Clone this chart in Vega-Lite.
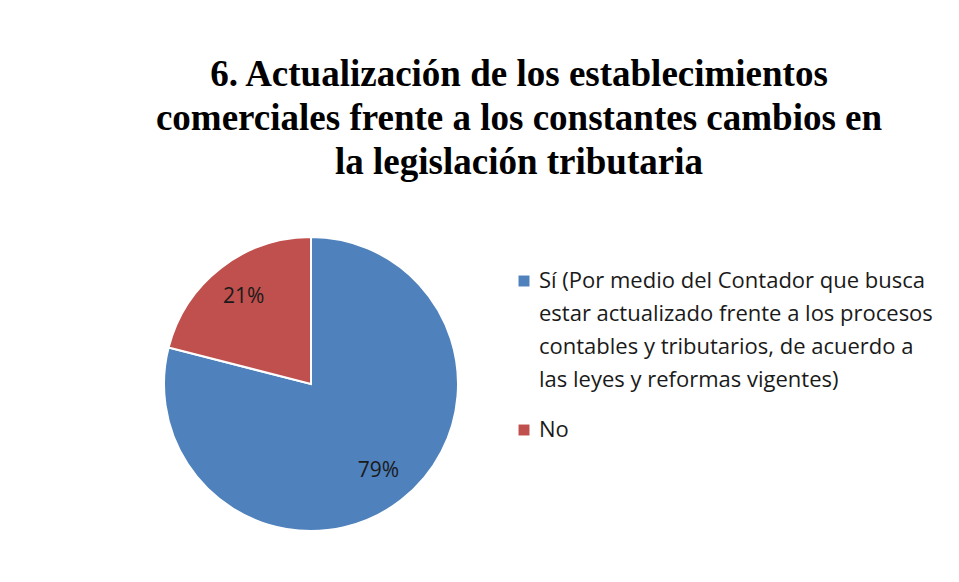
{
  "$schema": "https://vega.github.io/schema/vega-lite/v6.json",
  "autosize": {"type": "none"},
  "width": 622,
  "height": 294,
  "padding": {"left": 0, "top": 237, "right": 337, "bottom": 51},
  "background": "white",
  "title": {
    "text": ["6. Actualización de los establecimientos", "comerciales  frente a los constantes cambios en", "la legislación tributaria"],
    "font": "Liberation Serif",
    "fontSize": 37,
    "fontWeight": "bold",
    "lineHeight": 44,
    "color": "#000000",
    "anchor": "middle",
    "dx": 208,
    "offset": 51
  },
  "data": {
    "values": [
      {"respuesta": "Sí", "porcentaje": 79, "etiqueta": "79%"},
      {"respuesta": "No", "porcentaje": 21, "etiqueta": "21%"}
    ]
  },
  "encoding": {
    "theta": {"field": "porcentaje", "type": "quantitative", "stack": true},
    "order": {"field": "porcentaje", "type": "quantitative", "sort": "descending"}
  },
  "layer": [
    {
      "mark": {"type": "arc", "stroke": "white", "strokeWidth": 2},
      "encoding": {
        "color": {
          "field": "respuesta",
          "type": "nominal",
          "scale": {"domain": ["Sí", "No"], "range": ["#4F81BD", "#C0504D"]},
          "legend": {
            "title": null,
            "orient": "none",
            "legendX": 513,
            "legendY": 33,
            "labelExpr": "datum.label == 'Sí' ? ['Sí (Por medio del Contador que busca', 'estar actualizado frente a los procesos', 'contables y tributarios, de acuerdo a', 'las leyes y reformas vigentes)'] : datum.label",
            "labelFont": "Open Sans",
            "labelFontSize": 22,
            "labelColor": "#1a1a1a",
            "labelLimit": 600,
            "labelOffset": 4,
            "symbolType": "square",
            "symbolSize": 120,
            "symbolStrokeWidth": 0,
            "rowPadding": 28
          }
        }
      }
    },
    {
      "mark": {"type": "text", "radius": 110, "font": "Open Sans", "fontSize": 21, "color": "#1a1a1a"},
      "encoding": {
        "text": {"field": "etiqueta", "type": "nominal"}
      }
    }
  ],
  "config": {
    "view": {"stroke": null},
    "style": {"guide-label": {"lineHeight": 33}}
  }
}
